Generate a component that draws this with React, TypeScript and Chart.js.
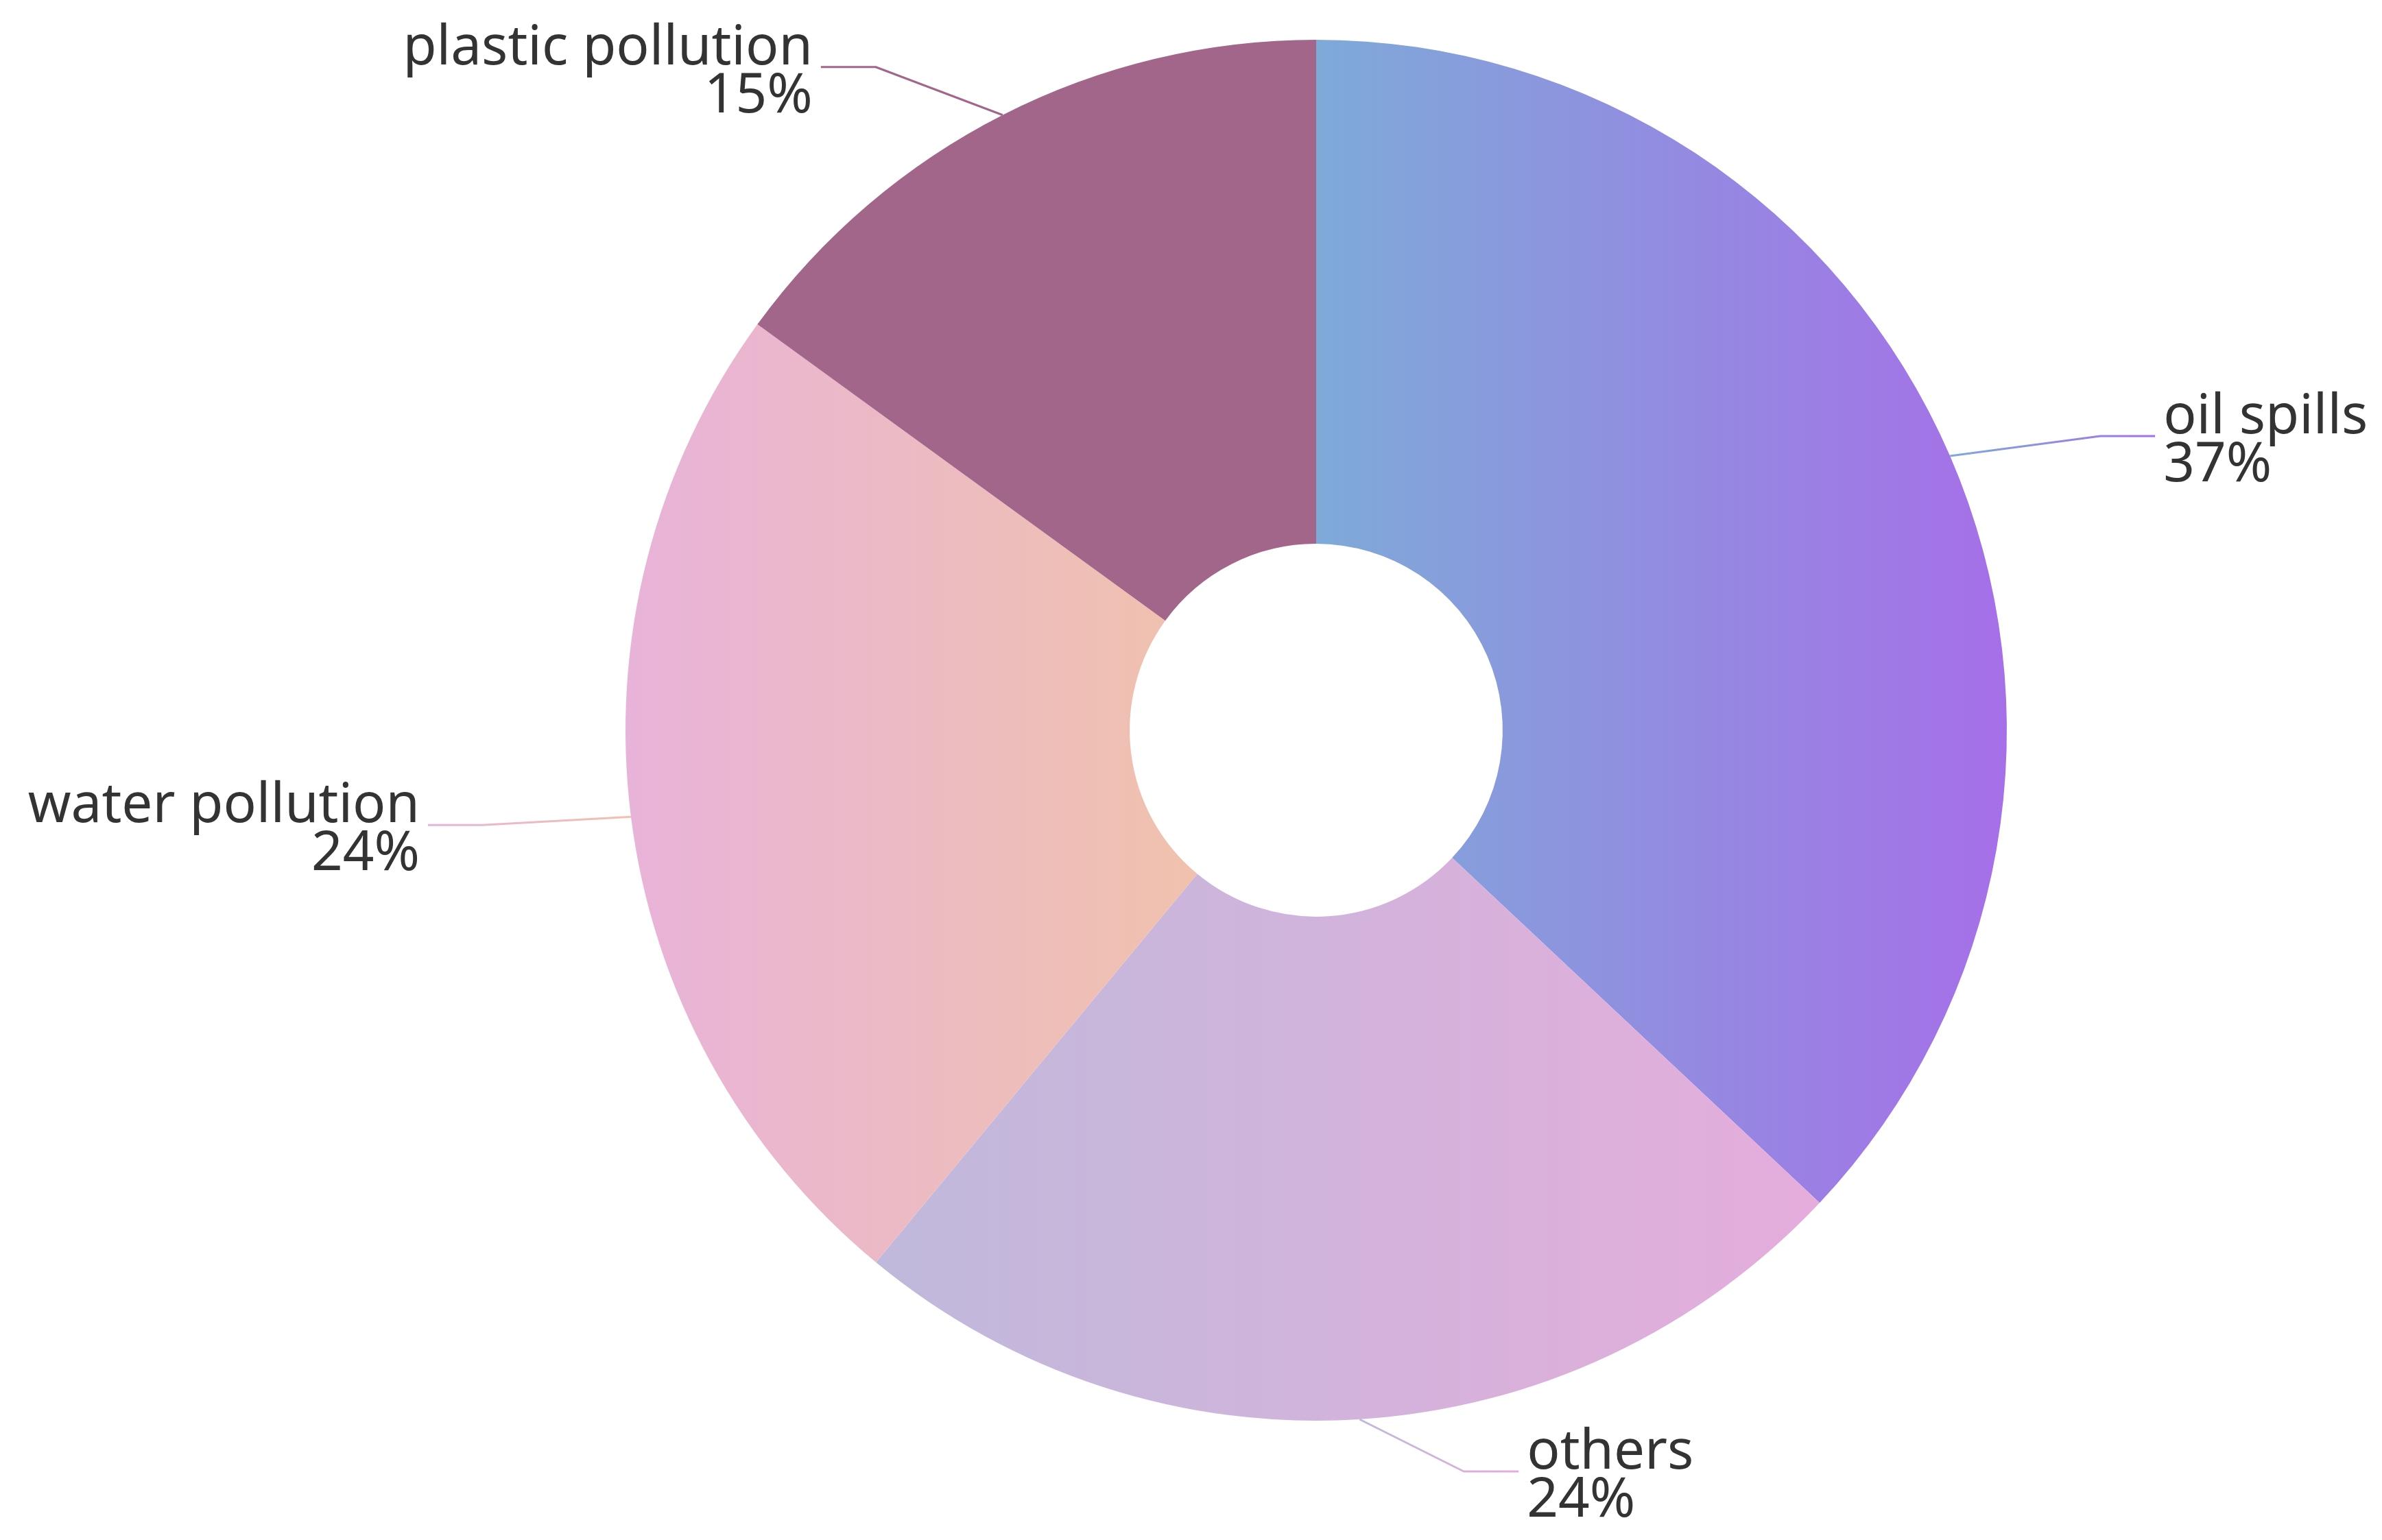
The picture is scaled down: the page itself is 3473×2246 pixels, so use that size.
import React, { useEffect, useRef } from "react";
import { Chart, registerables } from "chart.js";

Chart.register(...registerables);

const categories = ["oil spills", "others", "water pollution", "plastic pollution"];
const values = [37, 24, 24, 15];
const percentLabels = ["37%", "24%", "24%", "15%"];
const gradientStart = ["#7eaad8", "#bfb9db", "#e8b3d9", "#a3668b"];
const gradientEnd = ["#a66fe8", "#e5addb", "#f0c2ad", "#a3668b"];
// elbow offsets of the leader lines relative to the slice's outer mid point, and label side
const elbowOffsets = [
  [219, -29],
  [152, 76],
  [-216, 12],
  [-185, -70],
];
const labelSide = [1, 1, -1, -1];

const W = 3473;
const H = 2246;
const CX = 1919;
const CY = 1065;
const R = 1007;

function arcXRange(cx: number, ro: number, ri: number, a0: number, a1: number) {
  const xs: number[] = [];
  [a0, a1].forEach((a) => {
    xs.push(cx + ro * Math.cos(a), cx + ri * Math.cos(a));
  });
  const TAU = Math.PI * 2;
  for (let k = -2; k <= 4; k++) {
    const a = (k * Math.PI);
    if (a > a0 && a < a1) {
      xs.push(cx + ro * Math.cos(a));
    }
  }
  void TAU;
  return [Math.min(...xs), Math.max(...xs)];
}

function sliceFill(ctx: any) {
  const chart = ctx.chart;
  const i = ctx.dataIndex;
  const area = chart.chartArea;
  if (!area || i === undefined) return gradientStart[i ?? 0];
  const cx = (area.left + area.right) / 2;
  const ro = Math.min(area.right - area.left, area.bottom - area.top) / 2;
  const ri = ro * 0.27;
  const total = values.reduce((s, v) => s + v, 0);
  let acc = 0;
  for (let k = 0; k < i; k++) acc += values[k];
  const a0 = -Math.PI / 2 + (acc / total) * Math.PI * 2;
  const a1 = a0 + (values[i] / total) * Math.PI * 2;
  const [x0, x1] = arcXRange(cx, ro, ri, a0, a1);
  const g = chart.ctx.createLinearGradient(x0, 0, x1, 0);
  g.addColorStop(0, gradientStart[i]);
  g.addColorStop(1, gradientEnd[i]);
  return g;
}

const labelPlugin = {
  id: "leaderLabels",
  afterDatasetsDraw(chart: any) {
    const meta = chart.getDatasetMeta(0);
    const ctx = chart.ctx;
    ctx.save();
    meta.data.forEach((arc: any, i: number) => {
      const mid = (arc.startAngle + arc.endAngle) / 2;
      const px = arc.x + arc.outerRadius * Math.cos(mid);
      const py = arc.y + arc.outerRadius * Math.sin(mid);
      const ex = px + elbowOffsets[i][0];
      const ey = py + elbowOffsets[i][1];
      const side = labelSide[i];
      const hx = ex + side * 80;
      const minX = Math.min(px, ex, hx);
      const maxX = Math.max(px, ex, hx);
      const g = ctx.createLinearGradient(minX, 0, maxX, 0);
      if (side > 0) {
        g.addColorStop(0, gradientStart[i]);
        g.addColorStop(1, gradientEnd[i]);
      } else {
        g.addColorStop(0, gradientStart[i]);
        g.addColorStop(1, gradientEnd[i]);
      }
      ctx.beginPath();
      ctx.moveTo(px, py);
      ctx.lineTo(ex, ey);
      ctx.lineTo(hx, ey);
      ctx.strokeStyle = g;
      ctx.lineWidth = 3;
      ctx.lineJoin = "round";
      ctx.stroke();

      const tx = hx + side * 12;
      ctx.fillStyle = "#333333";
      ctx.font = '80px "Noto Sans"';
      ctx.textAlign = side > 0 ? "left" : "right";
      ctx.textBaseline = "alphabetic";
      ctx.fillText(categories[i], tx, ey - 4);
      ctx.fillText(percentLabels[i], tx, ey + 66);
    });
    ctx.restore();
  },
};

export default function App() {
  const ref = useRef<HTMLCanvasElement | null>(null);
  useEffect(() => {
    if (!ref.current) return;
    const chart = new Chart(ref.current, {
      type: "doughnut",
      data: {
        labels: categories,
        datasets: [
          {
            data: values,
            backgroundColor: sliceFill as any,
            borderWidth: 0,
            hoverOffset: 0,
          },
        ],
      },
      options: {
        responsive: false,
        animation: false,
        devicePixelRatio: 1,
        cutout: "27%",
        layout: {
          padding: {
            left: CX - R,
            right: W - (CX + R),
            top: CY - R,
            bottom: H - (CY + R),
          },
        },
        plugins: {
          legend: { display: false },
          tooltip: { enabled: false },
        },
      },
      plugins: [labelPlugin],
    });
    return () => chart.destroy();
  }, []);
  return (
    <div style={{ position: "fixed", left: 0, top: 0, width: W, height: H, background: "#ffffff" }}>
      <canvas ref={ref} width={W} height={H} style={{ width: W, height: H, display: "block" }} />
    </div>
  );
}
